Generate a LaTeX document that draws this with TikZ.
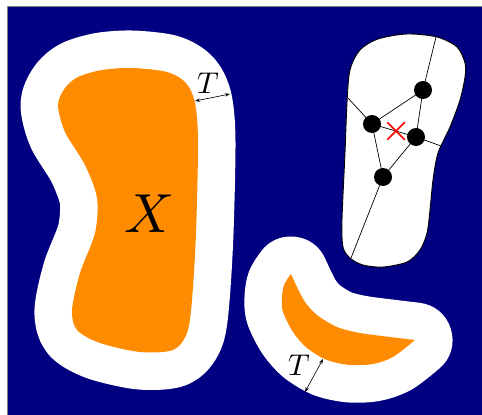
\documentclass[tikz,border=0pt]{standalone}
\usetikzlibrary{arrows.meta,shapes.misc}
\definecolor{navyc}{RGB}{0,0,128}
\definecolor{orangec}{RGB}{255,140,0}
\begin{document}
\begin{tikzpicture}[x=1pt,y=-1pt,
  dot/.style={circle,fill=black,inner sep=0pt,minimum size=18pt},
  edge/.style={line width=0.7pt},
  halo/.style={fill=orangec,preaction={draw=white,line width=75pt,line join=round}},
  dim/.style={{Stealth[length=5pt,width=3.5pt]}-{Stealth[length=5pt,width=3.5pt]},line width=0.6pt},
  lab/.style={scale=3,inner sep=0pt},
  big/.style={scale=5.5,inner sep=0pt},
  cell/.style={fill=white,draw=black,line width=0.9pt}
]
\useasboundingbox (0,0) rectangle (482,415);
\fill[navyc] (7,6) rectangle (482,415);
\draw[gray,line width=1pt] (7,415) -- (7,6) -- (482,6);

% big shape
\path[halo] plot[smooth cycle] coordinates {(132,68) (167,72) (186,83) (195,103) (198,142) (196,233) (192,300) (187,333) (173,350) (140,352) (100,343) (77,330) (72,310) (80,273) (95,233) (97,198) (85,165) (65,132) (58,105) (65,88) (78,77) (102,70)};

% crescent
\path[halo] plot[smooth] coordinates {(291,274) (284,285) (282,298) (283,312) (293,332) (307,348) (327,360) (350,365) (373,364) (393,357) (415,340)}
  -- plot[smooth] coordinates {(415,340) (390,337) (360,333) (337,327) (317,315) (305,302) (297,287) (291,274)} -- cycle;

\node[big] (X) at (149,214) {$X$};

% T dimensions
\coordinate (t1a) at (195,101);
\coordinate (t1b) at (230,94);
\draw[dim] (t1a) -- (t1b);
\node[lab] (T1) at (208,83) {$T$};
\coordinate (t2a) at (323,359);
\coordinate (t2b) at (305,392);
\draw[dim] (t2a) -- (t2b);
\node[lab] (T2) at (299,365) {$T$};

% cell
\path[cell] plot[smooth cycle] coordinates {(360,50) (378,39) (407,34) (437,37) (457,47) (465,63) (465,77) (460,100) (450,127) (438,153) (433,180) (430,210) (427,233) (420,250) (407,262) (383,267) (363,265) (350,258) (343,247) (342,220) (345,153) (347,103) (350,70)};

\coordinate (ptop) at (436,37);
\coordinate (pleft) at (347,97);
\coordinate (pright) at (441,146);
\coordinate (pbot) at (351,258);
\coordinate (pa) at (423,90);
\coordinate (pb) at (372,124);
\coordinate (pc) at (416,137);
\coordinate (pd) at (383,177);
\draw[edge] (ptop) -- (pa) -- (pc) -- (pright);
\draw[edge] (pa) -- (pb) -- (pc) -- (pd) -- (pb) -- (pleft);
\draw[edge] (pd) -- (pbot);
\node[dot] (A) at (pa) {};
\node[dot] (B) at (pb) {};
\node[dot] (C) at (pc) {};
\node[dot] (D) at (pd) {};
\node[cross out,draw=red,line width=1.5pt,minimum size=16pt,inner sep=0pt] (x) at (396,131) {};
\end{tikzpicture}
\end{document}
